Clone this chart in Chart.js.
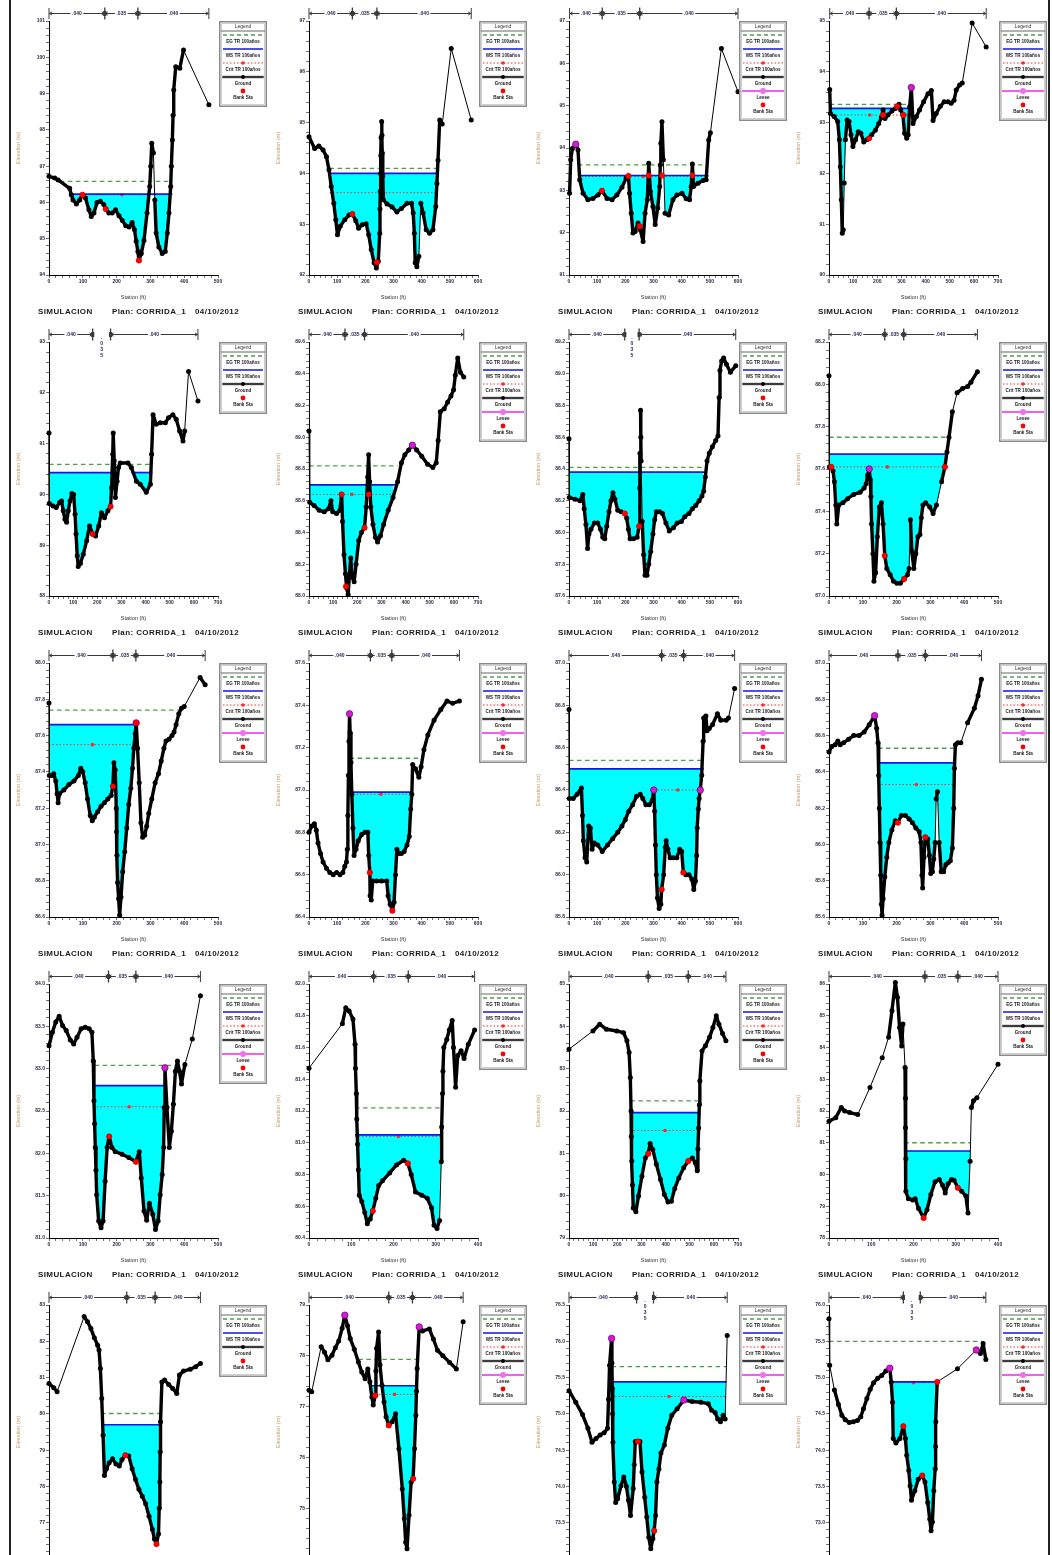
<!DOCTYPE html>
<html><head><meta charset="utf-8">
<script src="https://cdn.jsdelivr.net/npm/chart.js@4.4.1/dist/chart.umd.min.js"></script>
<style>
html,body{margin:0;padding:0;background:#fff;}
body{width:1052px;height:1555px;overflow:hidden;position:relative;font-family:Arial,"Liberation Sans",sans-serif;}
.panel{position:absolute;width:270px;height:321px;}
.panel canvas{position:absolute;left:0;top:0;}
.foot{position:absolute;top:307px;font:bold 8px Arial,"Liberation Sans",sans-serif;line-height:9px;color:#1a1a1a;white-space:nowrap;letter-spacing:0.4px;}
.vline{position:absolute;top:0;width:2px;height:1555px;background:#222;}
</style></head><body>
<div class="vline" style="left:9px"></div>
<div class="vline" style="left:1048px"></div>
<script>
// ---------- ground profiles [station (ft), elevation (m)] ----------
const GROUND_01=[[0,96.72],[17,96.67],[27,96.62],[61,96.39],[66,96.21],[71,96.07],[81,95.96],[91,96.07],[99,96.21],[108,96.12],[118,95.80],[125,95.61],[133,95.71],[142,96.0],[152,96.03],[162,95.94],[168,95.82],[177,95.71],[187,95.71],[197,95.80],[207,95.63],[217,95.50],[227,95.36],[237,95.32],[246,95.45],[253,95.25],[258,94.93],[263,94.65],[266,94.40],[273,94.59],[281,94.95],[290,95.71],[298,96.44],[301,97.0],[304,97.63],[309,97.36],[313,96.07],[317,95.16],[325,94.77],[335,94.59],[344,94.65],[350,95.16],[355,95.71],[360,96.44],[362,97.0],[365,97.72],[367,98.4],[369,99.10],[375,99.74],[387,99.70],[398,100.20],[473,98.69]];
const GROUND_02=[[0,94.72],[20,94.49],[35,94.54],[50,94.46],[62,94.33],[71,94.07],[79,93.74],[88,93.41],[95,93.09],[101,92.79],[111,92.96],[127,93.09],[142,93.18],[154,93.20],[166,93.07],[176,92.92],[189,92.99],[203,93.01],[212,92.79],[221,92.50],[231,92.24],[239,92.14],[246,92.27],[251,92.82],[252,93.30],[253,93.65],[254,94.0],[255,94.35],[256,94.70],[258,95.02],[259,94.75],[260,94.40],[262,93.95],[264,93.48],[277,93.40],[295,93.34],[312,93.24],[328,93.31],[348,93.41],[364,93.41],[370,93.22],[374,92.82],[377,92.24],[383,92.16],[390,92.37],[397,93.41],[405,93.22],[416,92.89],[428,92.82],[440,92.89],[450,93.35],[454,93.8],[458,94.26],[464,95.05],[473,94.97],[505,96.46],[576,95.05]];
const GROUND_03=[[2,92.93],[6,93.72],[12,93.99],[24,94.09],[32,93.95],[38,93.25],[50,92.93],[67,92.78],[85,92.81],[103,92.89],[117,92.99],[135,92.81],[153,92.78],[170,92.89],[188,93.07],[203,93.29],[211,93.34],[215,92.93],[221,92.46],[227,91.99],[235,92.03],[245,92.23],[253,92.07],[263,91.79],[270,92.46],[278,92.78],[283,93.64],[289,92.97],[298,92.62],[306,92.19],[315,92.58],[322,93.09],[324,93.6],[326,94.11],[330,94.62],[335,93.72],[341,92.46],[354,92.42],[369,92.78],[383,92.89],[401,92.93],[416,92.80],[428,92.78],[434,93.09],[438,93.62],[442,93.09],[458,93.17],[476,93.23],[487,93.25],[496,94.19],[502,94.36],[541,96.35],[600,95.33]];
const GROUND_04=[[3,93.65],[6,93.18],[21,93.12],[36,93.02],[43,92.66],[47,92.13],[51,91.48],[55,90.82],[59,90.89],[63,91.81],[68,92.66],[75,93.05],[83,93.02],[91,92.76],[99,92.53],[110,92.66],[121,92.82],[132,92.79],[144,92.62],[157,92.66],[166,92.69],[177,92.76],[192,92.85],[206,92.98],[217,93.10],[224,93.25],[232,93.08],[244,93.15],[261,93.23],[275,93.28],[282,93.32],[290,93.36],[297,93.25],[306,93.15],[313,92.79],[322,92.69],[328,92.76],[334,93.31],[341,93.69],[348,92.98],[362,93.12],[375,93.25],[392,93.41],[410,93.57],[424,93.63],[431,93.04],[444,93.18],[461,93.32],[477,93.41],[493,93.41],[506,93.38],[518,93.44],[527,93.64],[541,93.74],[552,93.78],[593,94.96],[651,94.49]];
const GROUND_05=[[0,91.21],[1,89.82],[17,89.77],[30,89.74],[44,89.84],[52,89.87],[59,89.68],[66,89.51],[73,89.45],[80,89.68],[87,89.87],[95,90.02],[102,90.0],[108,89.61],[112,89.22],[117,88.79],[121,88.58],[130,88.64],[142,88.82],[156,89.09],[168,89.38],[181,89.22],[193,89.18],[206,89.38],[217,89.64],[230,89.54],[244,89.68],[255,89.76],[259,90.13],[264,90.79],[266,91.21],[270,90.66],[275,89.94],[282,90.26],[288,90.53],[295,90.62],[327,90.62],[341,90.53],[362,90.26],[378,90.20],[403,90.04],[420,90.20],[425,90.79],[431,91.57],[444,91.38],[461,91.41],[482,91.41],[495,91.51],[513,91.57],[527,91.48],[541,91.25],[555,91.05],[562,91.25],[578,92.42],[617,91.84]];
const GROUND_06=[[0,89.04],[3,88.59],[21,88.57],[42,88.54],[63,88.53],[81,88.55],[91,88.60],[98,88.53],[114,88.52],[128,88.54],[135,88.64],[139,88.47],[145,88.26],[151,88.14],[156,88.05],[162,88.01],[167,88.12],[173,88.24],[178,88.12],[187,88.09],[195,88.20],[206,88.35],[217,88.40],[230,88.43],[237,88.56],[243,88.75],[247,88.89],[251,88.72],[256,88.56],[265,88.45],[275,88.37],[284,88.34],[296,88.38],[309,88.45],[328,88.54],[348,88.62],[367,88.72],[383,88.84],[397,88.89],[413,88.92],[428,88.95],[446,88.92],[467,88.88],[491,88.83],[513,88.81],[527,88.84],[535,88.98],[544,89.16],[560,89.18],[574,89.22],[588,89.26],[599,89.30],[606,89.39],[616,89.50],[627,89.41],[641,89.38]];
const GROUND_07=[[0,88.59],[1,88.22],[21,88.21],[39,88.20],[49,88.24],[54,88.15],[60,88.05],[66,87.90],[71,87.99],[78,88.02],[90,88.06],[102,88.06],[112,88.02],[120,87.97],[127,87.96],[134,88.04],[142,88.13],[149,88.20],[156,88.25],[163,88.21],[173,88.14],[185,88.13],[198,88.12],[205,88.09],[211,88.02],[217,87.96],[229,87.96],[242,87.97],[249,88.04],[251,88.28],[252,88.5],[254,88.77],[255,88.6],[256,88.45],[260,88.07],[265,87.86],[270,87.73],[277,87.73],[283,87.80],[290,87.88],[298,87.99],[304,88.08],[310,88.13],[322,88.13],[332,88.12],[344,88.06],[356,88.01],[371,88.03],[384,88.06],[399,88.07],[411,88.10],[426,88.12],[438,88.15],[450,88.17],[462,88.20],[472,88.23],[478,88.26],[484,88.35],[490,88.45],[498,88.50],[509,88.54],[521,88.58],[529,88.61],[533,88.85],[536,89.02],[542,89.08],[549,89.10],[559,89.06],[573,89.01],[592,89.05]];
const GROUND_08=[[0,88.04],[1,87.61],[7,87.61],[12,87.59],[16,87.54],[20,87.43],[23,87.34],[29,87.43],[41,87.44],[55,87.46],[73,87.48],[92,87.49],[104,87.51],[110,87.53],[114,87.57],[119,87.60],[122,87.55],[124,87.47],[126,87.34],[130,87.20],[133,87.07],[138,87.11],[143,87.28],[149,87.42],[155,87.44],[160,87.34],[165,87.19],[171,87.13],[181,87.10],[191,87.07],[201,87.06],[211,87.06],[222,87.08],[232,87.10],[237,87.13],[241,87.36],[245,87.21],[251,87.13],[257,87.20],[263,87.28],[269,87.29],[273,87.37],[278,87.43],[286,87.44],[298,87.42],[308,87.39],[318,87.43],[333,87.54],[343,87.61],[349,87.68],[355,87.75],[365,87.87],[379,87.96],[395,87.98],[410,87.99],[420,88.01],[439,88.06]];
const GROUND_09=[[0,87.78],[1,87.38],[8,87.38],[14,87.39],[20,87.35],[24,87.28],[27,87.23],[31,87.28],[44,87.30],[59,87.33],[74,87.35],[87,87.38],[94,87.42],[100,87.40],[107,87.34],[114,87.25],[122,87.16],[128,87.13],[134,87.15],[144,87.18],[154,87.21],[164,87.23],[174,87.25],[184,87.27],[189,87.32],[192,87.45],[196,87.41],[199,87.20],[200,87.07],[201,86.94],[203,86.79],[206,86.70],[209,86.61],[213,86.71],[218,86.85],[224,86.96],[230,87.09],[236,87.22],[242,87.31],[247,87.42],[251,87.53],[255,87.61],[258,87.67],[262,87.53],[267,87.34],[272,87.12],[277,87.04],[283,87.05],[289,87.10],[295,87.17],[304,87.25],[314,87.34],[324,87.39],[332,87.46],[340,87.53],[346,87.57],[355,87.58],[364,87.60],[370,87.62],[376,87.66],[384,87.72],[392,87.75],[400,87.76],[447,87.92],[462,87.88]];
const GROUND_10=[[0,86.80],[10,86.83],[19,86.84],[26,86.81],[32,86.75],[41,86.70],[50,86.66],[62,86.63],[74,86.61],[86,86.60],[98,86.61],[110,86.60],[120,86.61],[127,86.64],[133,86.66],[136,86.72],[138,86.88],[140,87.07],[142,87.23],[144,87.36],[146,87.27],[149,87.13],[152,86.98],[156,86.82],[160,86.69],[167,86.72],[175,86.76],[187,86.79],[199,86.80],[209,86.80],[212,86.69],[216,86.61],[217,86.50],[221,86.48],[226,86.57],[240,86.57],[258,86.57],[276,86.57],[281,86.50],[288,86.46],[296,86.43],[302,86.47],[307,86.60],[312,86.72],[319,86.70],[328,86.70],[338,86.71],[348,86.74],[356,86.78],[361,86.91],[365,86.98],[368,87.12],[378,87.10],[390,87.06],[398,87.11],[408,87.19],[422,87.26],[444,87.33],[468,87.38],[490,87.42],[510,87.41],[534,87.42]];
const GROUND_11=[[0,86.78],[1,86.36],[15,86.36],[29,86.38],[44,86.41],[48,86.28],[51,86.16],[57,86.08],[63,86.06],[70,86.23],[76,86.22],[82,86.12],[90,86.15],[102,86.14],[118,86.11],[137,86.14],[155,86.17],[173,86.20],[188,86.23],[200,86.26],[212,86.30],[226,86.33],[240,86.37],[253,86.38],[262,86.36],[273,86.33],[285,86.33],[295,86.35],[301,86.40],[304,86.30],[307,86.14],[310,86.00],[314,85.89],[320,85.84],[326,85.86],[329,85.93],[336,86.00],[342,86.13],[345,86.16],[351,86.12],[359,86.08],[371,86.08],[383,86.08],[393,86.12],[400,86.11],[406,86.01],[415,86.00],[426,86.00],[436,85.98],[443,85.93],[449,85.97],[453,86.09],[455,86.22],[459,86.31],[462,86.36],[466,86.40],[471,86.47],[476,86.63],[478,86.74],[486,86.75],[490,86.68],[498,86.69],[510,86.71],[527,86.76],[539,86.73],[558,86.73],[566,86.74],[588,86.88]];
const GROUND_12=[[0,86.51],[8,86.54],[18,86.55],[26,86.57],[33,86.55],[43,86.56],[58,86.58],[73,86.60],[89,86.60],[104,86.62],[119,86.66],[135,86.71],[141,86.64],[145,86.56],[147,86.38],[149,86.20],[151,86.01],[153,85.83],[155,85.67],[157,85.61],[160,85.70],[165,85.82],[171,85.93],[177,86.01],[186,86.08],[196,86.13],[204,86.12],[214,86.16],[226,86.16],[237,86.14],[247,86.12],[257,86.09],[267,86.07],[272,86.01],[275,85.83],[277,85.76],[281,85.93],[285,86.04],[292,86.03],[297,85.94],[301,85.84],[306,85.85],[310,85.92],[314,86.01],[317,86.25],[321,86.29],[326,86.01],[332,85.85],[339,85.85],[346,85.89],[353,85.90],[359,85.91],[365,85.98],[369,86.20],[371,86.42],[374,86.55],[381,86.56],[390,86.56],[410,86.67],[430,86.75],[441,86.82],[451,86.91]];
const GROUND_13=[[0,83.27],[10,83.43],[20,83.55],[30,83.62],[40,83.51],[51,83.45],[63,83.34],[73,83.29],[83,83.37],[95,83.47],[107,83.49],[119,83.47],[127,83.43],[131,83.09],[133,82.62],[135,82.35],[137,82.07],[139,81.8],[141,81.51],[147,81.20],[154,81.12],[160,81.20],[166,81.67],[172,82.07],[178,82.20],[186,82.07],[196,82.02],[216,81.99],[236,81.95],[257,81.90],[267,82.02],[273,81.71],[281,81.32],[289,81.21],[297,81.41],[307,81.28],[315,81.10],[323,81.20],[329,81.51],[335,81.75],[339,82.07],[341,82.54],[343,83.01],[349,82.54],[356,82.07],[362,82.26],[368,82.58],[374,82.97],[380,83.09],[386,82.97],[392,82.82],[402,83.05],[424,83.35],[448,83.86]];
const GROUND_14=[[0,81.47],[79,81.75],[87,81.85],[95,81.83],[104,81.78],[109,81.62],[110,81.47],[112,81.31],[113,81.15],[115,80.99],[117,80.83],[119,80.67],[125,80.63],[132,80.56],[138,80.49],[145,80.52],[151,80.57],[158,80.65],[165,80.73],[174,80.76],[191,80.81],[207,80.86],[224,80.89],[234,80.87],[242,80.80],[252,80.69],[267,80.67],[280,80.65],[290,80.59],[296,80.48],[303,80.46],[309,80.51],[313,80.88],[314,81.1],[316,81.31],[317,81.45],[319,81.60],[326,81.65],[332,81.71],[339,81.77],[342,81.60],[347,81.35],[352,81.55],[360,81.58],[367,81.53],[377,81.62],[392,81.71]];
const GROUND_15=[[0,83.46],[99,83.89],[127,84.05],[155,83.93],[198,83.89],[226,83.85],[240,83.66],[249,83.38],[254,82.79],[257,82.0],[258,81.4],[260,80.82],[263,80.25],[266,79.71],[277,79.62],[288,79.99],[302,80.46],[316,80.89],[328,80.99],[336,81.23],[347,81.09],[362,80.74],[379,80.38],[395,80.03],[410,79.85],[424,79.87],[438,80.17],[455,80.42],[475,80.66],[494,80.82],[511,80.89],[523,80.78],[531,80.59],[534,81.1],[537,81.60],[540,82.15],[542,82.71],[551,83.42],[565,83.54],[582,83.74],[596,83.97],[610,84.25],[621,84.05],[636,83.83],[650,83.66]];
const GROUND_16=[[0,81.68],[16,81.79],[29,82.11],[37,82.0],[49,81.95],[68,81.89],[97,82.74],[126,83.68],[141,84.32],[149,85.16],[157,86.05],[162,85.58],[167,84.63],[172,84.05],[175,84.74],[180,83.37],[181,82.40],[181,81.47],[182,80.50],[182,79.47],[188,79.24],[198,79.20],[204,79.24],[212,78.93],[224,78.63],[232,78.89],[241,79.37],[251,79.77],[261,79.84],[269,79.66],[275,79.42],[282,79.71],[290,79.84],[296,79.82],[305,79.58],[314,79.47],[324,79.32],[329,78.79],[334,80.42],[337,82.11],[342,82.32],[350,82.42],[400,83.47]];
const GROUND_17=[[0,80.84],[14,80.72],[24,80.61],[104,82.68],[114,82.54],[124,82.35],[134,82.10],[144,81.89],[148,81.76],[152,81.25],[156,80.42],[160,79.41],[164,78.30],[170,78.49],[178,78.65],[188,78.76],[198,78.62],[208,78.56],[216,78.74],[226,78.86],[236,78.84],[246,78.49],[256,78.19],[266,77.92],[276,77.73],[286,77.52],[296,77.18],[306,76.81],[312,76.55],[318,76.41],[324,76.69],[326,77.4],[328,78.12],[329,78.95],[330,79.78],[334,80.88],[342,80.93],[354,80.81],[366,80.70],[378,80.56],[386,81.07],[398,81.18],[418,81.23],[434,81.30],[448,81.39]];
const GROUND_18=[[0,77.32],[8,77.29],[36,78.18],[46,78.07],[56,77.92],[68,78.01],[78,78.16],[88,78.29],[98,78.54],[106,78.80],[114,78.59],[122,78.34],[134,78.13],[146,77.88],[156,77.68],[166,77.55],[174,77.74],[180,77.49],[186,77.19],[190,77.03],[196,77.22],[198,77.7],[200,78.15],[206,78.47],[210,77.82],[216,77.42],[222,77.09],[228,76.80],[236,76.63],[246,76.70],[256,76.86],[266,76.17],[276,75.38],[282,74.79],[286,74.33],[290,74.20],[296,74.86],[302,75.51],[308,75.58],[312,76.17],[316,76.83],[318,77.3],[320,77.75],[326,78.57],[336,78.49],[356,78.53],[368,78.33],[380,78.11],[396,78.0],[416,77.87],[436,77.74],[456,78.67]];
const GROUND_19=[[0,75.32],[20,75.16],[40,74.99],[56,74.80],[68,74.61],[80,74.66],[92,74.71],[104,74.74],[114,74.80],[117,75.2],[120,75.67],[126,76.04],[127,75.7],[128,75.35],[129,75.0],[130,74.61],[134,74.06],[138,73.78],[144,73.83],[154,74.01],[162,74.13],[170,74.0],[176,73.81],[182,73.60],[190,73.97],[193,74.3],[196,74.62],[204,74.62],[210,74.62],[216,74.20],[224,73.85],[230,73.58],[236,73.30],[242,73.14],[248,73.28],[252,73.39],[256,73.60],[260,74.06],[266,74.24],[272,74.46],[282,74.57],[292,74.80],[304,74.98],[320,75.07],[340,75.19],[364,75.17],[390,75.16],[412,75.14],[422,75.05],[432,75.02],[440,74.93],[448,74.89],[456,74.98],[462,74.93],[468,76.08]];
const GROUND_20=[[0,75.81],[2,75.17],[16,74.83],[28,74.63],[38,74.48],[48,74.42],[60,74.38],[72,74.39],[84,74.41],[94,74.46],[102,74.57],[112,74.71],[122,74.84],[132,74.93],[144,74.99],[156,75.03],[168,75.09],[180,75.13],[184,74.94],[188,74.66],[190,74.16],[198,74.10],[210,74.16],[220,74.33],[226,74.16],[230,73.93],[236,73.72],[240,73.51],[244,73.31],[254,73.44],[264,73.60],[276,73.65],[284,73.56],[292,73.28],[298,73.05],[302,72.89],[306,73.01],[310,73.44],[314,73.74],[315,74.05],[316,74.39],[320,74.94],[380,75.12],[436,75.38],[448,75.33],[456,75.47],[464,75.25]];

// ---------- bank stations (red) and levees (magenta) ----------
const BANK_01=[[99,96.21],[168,95.82],[266,94.40]];
const BANK_02=[[154,93.20],[241,92.25]];
const BANK_03=[[117,92.99],[251,92.15],[211,93.34],[283,93.35],[330,93.35],[438,93.35]];
const BANK_04=[[166,92.69],[224,93.15],[282,93.32],[309,93.15]];
const BANK_05=[[181,89.22],[255,89.76]];
const BANK_06=[[135,88.64],[153,88.06],[230,88.43],[247,88.64]];
const BANK_07=[[198,88.12],[249,88.04]];
const BANK_08=[[7,87.61],[165,87.19],[222,87.08],[343,87.61]];
const BANK_09=[[189,87.32],[258,87.67]];
const BANK_10=[[216,86.61],[296,86.43]];
const BANK_11=[[329,85.93],[406,86.01]];
const BANK_12=[[204,86.12],[285,86.04]];
const BANK_13=[[178,82.20],[257,81.90]];
const BANK_14=[[151,80.57],[234,80.87]];
const BANK_15=[[328,80.99],[494,80.82]];
const BANK_16=[[224,78.63],[305,79.58]];
const BANK_17=[[226,78.86],[318,76.41]];
const BANK_18=[[196,77.22],[236,76.63],[308,75.58]];
const BANK_19=[[204,74.62],[252,73.39]];
const BANK_20=[[220,74.33],[276,73.65],[320,74.94]];
const LEVEE_01=[],LEVEE_02=[],LEVEE_05=[],LEVEE_07=[],LEVEE_14=[],LEVEE_15=[],LEVEE_16=[],LEVEE_17=[];
const LEVEE_03=[[24,94.09]];
const LEVEE_04=[[341,93.69]];
const LEVEE_06=[[428,88.95]];
const LEVEE_08=[[119,87.60]];
const LEVEE_09=[[258,87.67]];
const LEVEE_10=[[144,87.36]];
const LEVEE_11=[[301,86.40],[466,86.40]];
const LEVEE_12=[[135,86.71]];
const LEVEE_13=[[343,83.01]];
const LEVEE_18=[[106,78.80],[326,78.57]];
const LEVEE_19=[[126,76.04],[340,75.19]];
const LEVEE_20=[[180,75.13],[436,75.38]];

// ---------- water surface, energy grade, critical ----------
const WS_ELEV=[96.23,94.0,93.35,93.28,90.43,88.70,88.38,87.67,87.66,86.99,86.50,86.45,82.80,81.05,81.96,80.74,79.70,77.41,75.44,74.94];
const WS_RANGES=[[[66,365]],[[73,452]],[[32,495]],[[3,334]],[[0,286],[341,428]],[[0,360]],[[0,482]],[[0,349]],[[0,257]],[[144,366]],[[0,478]],[[145,372]],[[131,343]],[[109,314]],[[254,542]],[[178,334]],[[154,330]],[[186,320]],[[126,466]],[[180,320]]];
const EG_ELEV=[96.58,94.10,93.60,93.36,90.59,88.82,88.41,87.75,87.74,87.15,86.54,86.53,83.04,81.22,82.24,81.0,80.01,77.93,75.65,75.50];
const EG_FROM=[32,73,32,3,0,0,0,0,0,144,0,145,135,109,254,178,154,146,126,0];
const EG_TO=[362,452,495,334,428,367,484,355,392,408,478,381,380,314,542,334,328,320,466,456];
const CRIT_ELEV=[96.21,93.62,93.33,93.15,null,88.64,null,87.61,87.55,86.98,86.40,86.33,82.55,81.04,81.54,null,null,77.24,75.24,74.93];
const CRIT_FROM=[66,73,32,3,null,0,null,0,0,144,301,145,131,109,254,null,null,186,126,180];
const CRIT_TO=[365,452,495,334,null,355,null,344,257,366,472,372,343,314,542,null,null,320,466,320];

// ---------- axes ----------
const X_MAX=[500,600,600,700,700,700,600,500,500,600,600,500,500,400,700,400,500,500,500,500];
const Y_MIN=[94,92,91,90,88,88.0,87.6,87.0,86.6,86.4,85.8,85.6,81.0,80.4,79,78,76,74,73.0,72.5];
const Y_STEP=[1,1,1,1,1,0.2,0.2,0.2,0.2,0.2,0.2,0.2,0.5,0.2,1,1,1,1,0.5,0.5];
const Y_INTERVALS=[7,5,6,5,5,8,8,6,7,6,6,7,6,8,6,8,7,5,7,7];

// ---------- Manning's n bar ----------
const TOPBAR_BANKS=[[165,263],[154,241],[118,251],[166,279],[181,255],[149,230],[198,249],[165,221],[189,257],[218,294],[329,407],[204,285],[176,257],[153,235],[328,494],[227,305],[230,314],[236,306],[200,250],[220,270]];
const MAIN_N_VERTICAL=[false,false,false,false,true,false,true,false,false,false,false,false,false,false,false,false,false,false,true,true];
const N_LABELS=['.040','.035','.040'];

// ---------- texts ----------
const LEGEND_TEXT={title:'Legend',EG:'EG TR 100años',WS:'WS TR 100años',Crit:'Crit TR 100años',Ground:'Ground',Levee:'Levee',Bank:'Bank Sta'};
const FOOTER=['SIMULACION','Plan: CORRIDA_1','04/10/2012'];
const X_TITLE='Station (ft)';
const Y_TITLE='Elevation (m)';

const GROUNDS=[GROUND_01,GROUND_02,GROUND_03,GROUND_04,GROUND_05,GROUND_06,GROUND_07,GROUND_08,GROUND_09,GROUND_10,GROUND_11,GROUND_12,GROUND_13,GROUND_14,GROUND_15,GROUND_16,GROUND_17,GROUND_18,GROUND_19,GROUND_20];
const BANKS=[BANK_01,BANK_02,BANK_03,BANK_04,BANK_05,BANK_06,BANK_07,BANK_08,BANK_09,BANK_10,BANK_11,BANK_12,BANK_13,BANK_14,BANK_15,BANK_16,BANK_17,BANK_18,BANK_19,BANK_20];
const LEVEES=[LEVEE_01,LEVEE_02,LEVEE_03,LEVEE_04,LEVEE_05,LEVEE_06,LEVEE_07,LEVEE_08,LEVEE_09,LEVEE_10,LEVEE_11,LEVEE_12,LEVEE_13,LEVEE_14,LEVEE_15,LEVEE_16,LEVEE_17,LEVEE_18,LEVEE_19,LEVEE_20];

const C_FILL='#00ffff',C_WS='#1414e6',C_EG='#4c9e4c',C_CRIT='#ff2a2a',C_LEVEE='#d21ed2',C_BANK='#ff0000';
const pts=a=>a.map(p=>({x:p[0],y:p[1]}));
// densely surveyed stretches (short steps, steep banks) read as a heavy beaded profile; long gaps as a thin line
const groundWidth=c=>{const dx=Math.abs(c.p1.x-c.p0.x),dy=c.p1.y-c.p0.y,len=Math.hypot(dx,dy);return (len<19||(dx<4&&len<42))?3.4:1;};

function drawTopBar(ctx,chart,i){
  const xs=chart.scales.x, y=chart.chartArea.top-7.5;
  const g=GROUNDS[i], a=g[0][0], z=g[g.length-1][0];
  const [b1,b2]=TOPBAR_BANKS[i];
  const X=v=>xs.getPixelForValue(v);
  const segs=MAIN_N_VERTICAL[i]?[[a,b1,N_LABELS[0]],[b2,z,N_LABELS[2]]]:[[a,b1,N_LABELS[0]],[b1,b2,N_LABELS[1]],[b2,z,N_LABELS[2]]];
  ctx.save();
  ctx.strokeStyle='#3a3a3a';ctx.fillStyle='#3a3a3a';ctx.lineWidth=1;
  ctx.font='bold 5px Arial';ctx.textAlign='center';ctx.textBaseline='middle';
  segs.forEach(([p,q,lab])=>{
    const x1=X(p),x2=X(q);
    ctx.beginPath();ctx.moveTo(x1,y);ctx.lineTo(x2,y);ctx.stroke();
    ctx.beginPath();ctx.moveTo(x1+3,y-1.6);ctx.lineTo(x1+0.5,y);ctx.lineTo(x1+3,y+1.6);
    ctx.moveTo(x2-3,y-1.6);ctx.lineTo(x2-0.5,y);ctx.lineTo(x2-3,y+1.6);ctx.stroke();
    const w=ctx.measureText(lab).width+3, xm=(x1+x2)/2;
    ctx.fillStyle='#fff';ctx.fillRect(xm-w/2,y-3,w,6);
    ctx.fillStyle='#2a2a55';ctx.fillText(lab,xm,y+0.3);
    ctx.fillStyle='#3a3a3a';
  });
  [a,z].forEach(v=>{const x=X(v);ctx.beginPath();ctx.moveTo(x,y-5.5);ctx.lineTo(x,y+5.5);ctx.stroke();});
  [b1,b2].forEach(v=>{const x=X(v);ctx.lineWidth=1.3;ctx.beginPath();ctx.moveTo(x,y-6);ctx.lineTo(x,y+6);ctx.stroke();ctx.fillRect(x-1.6,y-2.5,3.2,5);});
  if(MAIN_N_VERTICAL[i]){
    const xm=X((b1+b2)/2);const chars=N_LABELS[1].split('');
    ctx.fillStyle='#2a2a55';
    chars.forEach((c,k)=>ctx.fillText(c,xm,y+3+k*6));
  }
  ctx.restore();
}

function drawLegend(ctx,x0,y0,items){
  const w=48,h=16+items.length*14;
  ctx.save();
  ctx.fillStyle='#fff';ctx.fillRect(x0,y0,w,h);
  ctx.strokeStyle='#8a8a8a';ctx.lineWidth=1.5;ctx.strokeRect(x0+0.75,y0+0.75,w-1.5,h-1.5);
  ctx.strokeStyle='#c4c4c4';ctx.lineWidth=0.8;ctx.strokeRect(x0+2.6,y0+2.6,w-5.2,h-5.2);
  ctx.textAlign='center';ctx.textBaseline='middle';
  ctx.fillStyle='#333';ctx.font='5px Arial';ctx.fillText(LEGEND_TEXT.title,x0+w/2,y0+5.5);
  ctx.strokeStyle='#666';ctx.lineWidth=1;ctx.beginPath();ctx.moveTo(x0+2,y0+10);ctx.lineTo(x0+w-2,y0+10);ctx.stroke();
  const xa=x0+4,xb=x0+w-4,xm=x0+w/2;
  items.forEach((it,k)=>{
    const ys=y0+14+k*14,yt=ys+7;
    ctx.save();
    ctx.beginPath();
    if(it==='EG'){ctx.strokeStyle=C_EG;ctx.lineWidth=1.3;ctx.setLineDash([4,3]);ctx.moveTo(xa,ys);ctx.lineTo(xb,ys);ctx.stroke();}
    else if(it==='WS'){ctx.strokeStyle=C_WS;ctx.lineWidth=1.6;ctx.moveTo(xa,ys);ctx.lineTo(xb,ys);ctx.stroke();}
    else if(it==='Crit'){ctx.strokeStyle=C_CRIT;ctx.lineWidth=1;ctx.setLineDash([1.5,2]);ctx.moveTo(xa,ys);ctx.lineTo(xb,ys);ctx.stroke();ctx.setLineDash([]);ctx.fillStyle=C_CRIT;ctx.beginPath();ctx.arc(xm,ys,1.8,0,7);ctx.fill();}
    else if(it==='Ground'){ctx.strokeStyle='#777';ctx.lineWidth=2.6;ctx.moveTo(xa-1,ys);ctx.lineTo(xb+1,ys);ctx.stroke();ctx.strokeStyle='#000';ctx.lineWidth=1;ctx.beginPath();ctx.moveTo(xa,ys);ctx.lineTo(xb,ys);ctx.stroke();ctx.fillStyle='#000';ctx.beginPath();ctx.arc(xm,ys,2,0,7);ctx.fill();}
    else if(it==='Levee'){ctx.strokeStyle='#f060f0';ctx.lineWidth=2;ctx.moveTo(xa-1,ys);ctx.lineTo(xb+1,ys);ctx.stroke();ctx.fillStyle='#f070f0';ctx.beginPath();ctx.arc(xm,ys,3,0,7);ctx.fill();}
    else if(it==='Bank'){ctx.fillStyle=C_BANK;ctx.beginPath();ctx.arc(xm,ys,2.4,0,7);ctx.fill();}
    ctx.restore();
    ctx.fillStyle='#1a1a1a';ctx.font='bold 4.6px Arial';
    ctx.fillText(LEGEND_TEXT[it],xm,yt);
  });
  ctx.restore();
}

const xsecPlugin={
  id:'xsec',
  afterDraw(chart,args,opts){
    const i=opts.idx, ctx=chart.ctx, ca=chart.chartArea;
    ctx.save();
    ctx.textAlign='center';ctx.textBaseline='middle';
    ctx.font='5.5px Arial';ctx.fillStyle='#333';
    ctx.fillText(X_TITLE,(ca.left+ca.right)/2,ca.bottom+22);
    ctx.save();ctx.translate(18,(ca.top+ca.bottom)/2);ctx.rotate(-Math.PI/2);
    ctx.fillStyle='#c0a070';ctx.fillText(Y_TITLE,0,0);ctx.restore();
    ctx.restore();
    drawTopBar(ctx,chart,i);
    const items=['EG','WS'];
    if(CRIT_ELEV[i]!==null) items.push('Crit');
    items.push('Ground');
    if(LEVEES[i].length) items.push('Levee');
    items.push('Bank');
    drawLegend(ctx,ca.right+1,ca.top,items);
  }
};

function makePanel(i){
  const row=Math.floor(i/4),col=i%4;
  const div=document.createElement('div');div.className='panel';
  div.style.left=(col*260)+'px';div.style.top=(row*321)+'px';
  const cv=document.createElement('canvas');cv.width=270;cv.height=321;
  cv.style.width='270px';cv.style.height='321px';
  div.appendChild(cv);
  const fx=[38,112,195];
  FOOTER.forEach((t,k)=>{const s=document.createElement('div');s.className='foot';s.style.left=fx[k]+'px';s.textContent=t;div.appendChild(s);});
  document.body.appendChild(div);

  const g=GROUNDS[i], ws=WS_ELEV[i];
  const ds=[];
  ds.push({label:'Bank Sta',data:pts(BANKS[i]),showLine:false,pointRadius:2.7,pointBackgroundColor:C_BANK,pointBorderColor:'#d40000',pointBorderWidth:0.6,clip:false});
  if(LEVEES[i].length) ds.push({label:'Levee',data:pts(LEVEES[i]),showLine:false,pointRadius:3.2,pointBackgroundColor:C_LEVEE,pointBorderColor:'#7a007a',pointBorderWidth:0.8,clip:false});
  ds.push({label:'Ground',data:pts(g),borderColor:'#000',borderWidth:1,borderJoinStyle:'round',borderCapStyle:'round',segment:{borderWidth:groundWidth},pointRadius:2.5,pointBackgroundColor:'#000',pointBorderColor:'#000',pointBorderWidth:0,tension:0,clip:false});
  WS_RANGES[i].forEach(r=>ds.push({label:'WS',data:[{x:r[0],y:ws},{x:r[1],y:ws}],borderColor:C_WS,borderWidth:1.7,pointRadius:0}));
  if(CRIT_ELEV[i]!==null){
    const c=CRIT_ELEV[i],a=CRIT_FROM[i],b=CRIT_TO[i];
    ds.push({label:'Crit',data:[{x:a,y:c},{x:(a+b)/2,y:c},{x:b,y:c}],borderColor:C_CRIT,borderWidth:1,borderDash:[1.5,2],pointRadius:[0,1.8,0],pointBackgroundColor:C_CRIT,pointBorderWidth:0});
  }
  ds.push({label:'EG',data:[{x:EG_FROM[i],y:EG_ELEV[i]},{x:EG_TO[i],y:EG_ELEV[i]}],borderColor:C_EG,borderWidth:1.3,borderDash:[4.5,3.5],pointRadius:0});
  WS_RANGES[i].forEach(r=>ds.push({label:'water',data:pts(g.filter(p=>p[0]>=r[0]&&p[0]<=r[1])),borderColor:'rgba(0,0,0,0)',borderWidth:0,pointRadius:0,backgroundColor:C_FILL,fill:{target:{value:ws},above:'rgba(0,0,0,0)',below:C_FILL}}));

  const yMin=Y_MIN[i],step=Y_STEP[i],yMax=yMin+step*Y_INTERVALS[i];
  const tickFont={size:5,family:'Arial',weight:'bold'};
  new Chart(cv,{
    type:'line',
    data:{datasets:ds},
    options:{
      responsive:false,animation:false,devicePixelRatio:1,events:[],
      layout:{padding:{left:0,right:52,top:21,bottom:30}},
      plugins:{legend:{display:false},tooltip:{enabled:false},xsec:{idx:i}},
      scales:{
        x:{type:'linear',position:'bottom',min:0,max:X_MAX[i],
          afterFit:s=>{s.height=16;},
          grid:{drawOnChartArea:false,drawTicks:true,tickLength:3,color:'#333',lineWidth:0.7},
          border:{display:true,color:'#000',width:1},
          ticks:{stepSize:20,autoSkip:false,maxRotation:0,minRotation:0,padding:1,color:'#2b2b40',font:tickFont,
            callback:v=>(Math.abs(v/100-Math.round(v/100))<1e-6?String(Math.round(v)):'')}},
        y:{type:'linear',position:'left',min:yMin,max:yMax,
          afterFit:s=>{s.width=49;},
          grid:{drawOnChartArea:false,drawTicks:true,tickLength:3,color:'#333',lineWidth:0.7},
          border:{display:true,color:'#000',width:1},
          ticks:{stepSize:step/5,autoSkip:false,padding:1,color:'#2b2b40',font:tickFont,
            callback:v=>{const k=(v-yMin)/step;if(Math.abs(k-Math.round(k))>1e-6)return '';const val=yMin+Math.round(k)*step;return step>=1?String(Math.round(val)):val.toFixed(1);}}}
      }
    },
    plugins:[xsecPlugin]
  });
}
for(let i=0;i<20;i++) makePanel(i);
</script>
</body></html>
